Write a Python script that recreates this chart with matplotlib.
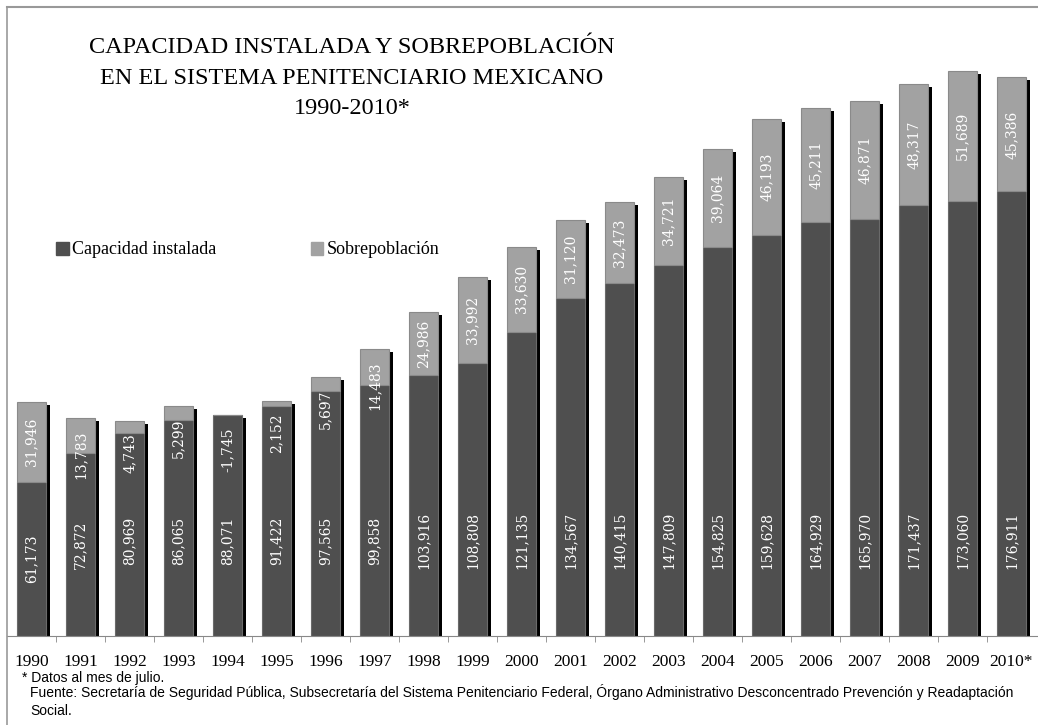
import numpy as np
import matplotlib.pyplot as plt
from matplotlib.lines import Line2D
from matplotlib.patches import Patch

# datos
years = ["1990", "1991", "1992", "1993", "1994", "1995", "1996", "1997", "1998", "1999", "2000",
         "2001", "2002", "2003", "2004", "2005", "2006", "2007", "2008", "2009", "2010*"]
capacidad = [61173, 72872, 80969, 86065, 88071, 91422, 97565, 99858, 103916, 108808, 121135,
             134567, 140415, 147809, 154825, 159628, 164929, 165970, 171437, 173060, 176911]
sobrepoblacion = [31946, 13783, 4743, 5299, -1745, 2152, 5697, 14483, 24986, 33992, 33630,
                  31120, 32473, 34721, 39064, 46193, 45211, 46871, 48317, 51689, 45386]

W, H = 1038, 725
fig = plt.figure(figsize=(W / 100, H / 100), dpi=100)
ax = fig.add_axes([7 / W, (H - 636) / H, (W - 7) / W, (636 - 7) / H])

dark = "#4f4f4f"
light = "#a2a2a2"
x = np.arange(len(years))
bw = 0.58
cap = np.array(capacidad)
sob = np.clip(np.array(sobrepoblacion), 0, None)

# sombra negra desplazada
dx = 4 / 49
dy = 3 / 0.002513
ax.bar(x + dx, cap + sob, width=bw, bottom=-dy, color="black", zorder=1)
ax.bar(x, cap, width=bw, color=dark, edgecolor="#6a6a6a", linewidth=0.8, zorder=2)
ax.bar(x, sob, width=bw, bottom=cap, color=light, edgecolor="#8a8a8a", linewidth=0.8, zorder=2)

lab_font = dict(family="DejaVu Serif", fontsize=10, color="white", rotation=90, zorder=3)
for i in range(len(years)):
    yc = min(cap[i] * 0.5, 38000)
    ax.text(x[i], yc, f"{capacidad[i]:,}", ha="center", va="center", **lab_font)
    s = sobrepoblacion[i]
    top = cap[i] + sob[i]
    if abs(s) < 20000:
        ax.text(x[i], top - 5000, f"{s:,}", ha="center", va="top", **lab_font)
    else:
        ax.text(x[i], cap[i] + s / 2, f"{s:,}", ha="center", va="center", **lab_font)

ax.set_xlim(-0.5, 20.5 + 2 / 49)
ax.set_ylim(0, 629 / 0.002513)
ax.set_yticks([])
ax.set_xticks(x)
ax.set_xticklabels(years, family="Liberation Serif", fontsize=12.5)
ax.tick_params(axis="x", which="major", length=0, pad=13)
ax.set_xticks(np.arange(0.5, 20.5, 1), minor=True)
ax.tick_params(axis="x", which="minor", length=4, color="#888888")
for s in ["top", "right", "left"]:
    ax.spines[s].set_visible(False)
ax.spines["bottom"].set_color("#888888")

# marco gris arriba e izquierda
fig.add_artist(Line2D([7 / W, 1], [(H - 7) / H] * 2, color="#999999", lw=1.5))
fig.add_artist(Line2D([7 / W] * 2, [0, (H - 7) / H], color="#999999", lw=1.2))

fig.text(352 / W, 1 - 78 / H, "CAPACIDAD INSTALADA Y SOBREPOBLACIÓN\nEN EL SISTEMA PENITENCIARIO MEXICANO\n1990-2010*",
         ha="center", va="center", family="Liberation Serif", fontsize=17.5, linespacing=1.58)

handles = [Patch(color=dark, label="Capacidad instalada"), Patch(color=light, label="Sobrepoblación")]
fig.legend(handles=handles, loc="center left", bbox_to_anchor=(40 / W, 1 - 250 / H), ncol=2, frameon=False,
           prop={"family": "Liberation Serif", "size": 13}, handlelength=0.7, handleheight=0.7,
           handletextpad=0.2, columnspacing=5.2)

fig.text(22 / W, 1 - 678 / H, "* Datos al mes de julio.", family="Liberation Sans", fontsize=10, va="center")
fig.text(30 / W, 1 - 701 / H,
         "Fuente: Secretaría de Seguridad Pública, Subsecretaría del Sistema Penitenciario Federal, Órgano Administrativo Desconcentrado Prevención y Readaptación\nSocial.",
         family="Liberation Sans", fontsize=10, va="center", linespacing=1.3)

fig.savefig("out.png", dpi=100)
